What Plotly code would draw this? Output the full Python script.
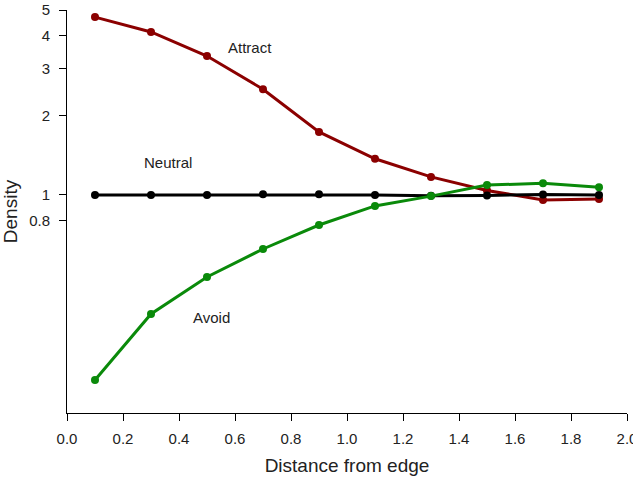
import plotly.graph_objects as go
import math

distance = [0.1, 0.3, 0.5, 0.7, 0.9, 1.1, 1.3, 1.5, 1.7, 1.9]
attract = [4.70, 4.13, 3.35, 2.51, 1.73, 1.37, 1.17, 1.04, 0.957, 0.966]
neutral = [1.0, 1.0, 1.0, 1.006, 1.006, 1.0, 0.993, 0.995, 1.005, 1.0]
avoid = [0.20, 0.355, 0.49, 0.625, 0.77, 0.909, 0.99, 1.09, 1.107, 1.069]

series = [("Attract", attract, "#8B0000"), ("Neutral", neutral, "#000000"), ("Avoid", avoid, "#0A8A0A")]
labels = [("Attract", 0.653, 3.62), ("Neutral", 0.36, 1.33), ("Avoid", 0.517, 0.343)]

y_ticks = [0.8, 1, 2, 3, 4, 5]
x_ticks = [0.0, 0.2, 0.4, 0.6, 0.8, 1.0, 1.2, 1.4, 1.6, 1.8, 2.0]

fig = go.Figure()
for name, vals, col in series:
    fig.add_trace(go.Scatter(x=distance, y=vals, mode="lines+markers", name=name,
                             line=dict(color=col, width=3),
                             marker=dict(color=col, size=8)))

for text, lx, ly in labels:
    fig.add_annotation(x=lx, y=math.log10(ly), text=text, showarrow=False,
                       font=dict(size=15, color="#222222", family="Liberation Sans, Arial"))

fig.update_layout(
    width=633, height=488,
    margin=dict(l=67, r=6, t=10, b=75),
    paper_bgcolor="white", plot_bgcolor="white",
    showlegend=False,
    font=dict(family="Liberation Sans, Arial", size=15, color="#222222"),
)
fig.update_xaxes(range=[0, 2], tickvals=x_ticks, ticktext=[f"{v:.1f}" for v in x_ticks],
                 showline=True, linecolor="black", linewidth=1, ticks="outside",
                 ticklen=7, tickcolor="black", showgrid=False, zeroline=False,
                 ticklabeloverflow="allow", ticklabelstandoff=5, automargin=False,
                 title=dict(text="Distance from edge", font=dict(size=19), standoff=12))
fig.update_yaxes(type="log", range=[math.log10(0.15), math.log10(5)],
                 tickvals=y_ticks, ticktext=[str(v) for v in y_ticks],
                 showline=True, linecolor="black", linewidth=1, ticks="outside",
                 ticklen=7, tickcolor="black", showgrid=False, zeroline=False,
                 ticklabelstandoff=6, ticklabeloverflow="allow", automargin=False,
                 title=dict(text="Density", font=dict(size=19), standoff=8))

fig.write_html("out.html")
